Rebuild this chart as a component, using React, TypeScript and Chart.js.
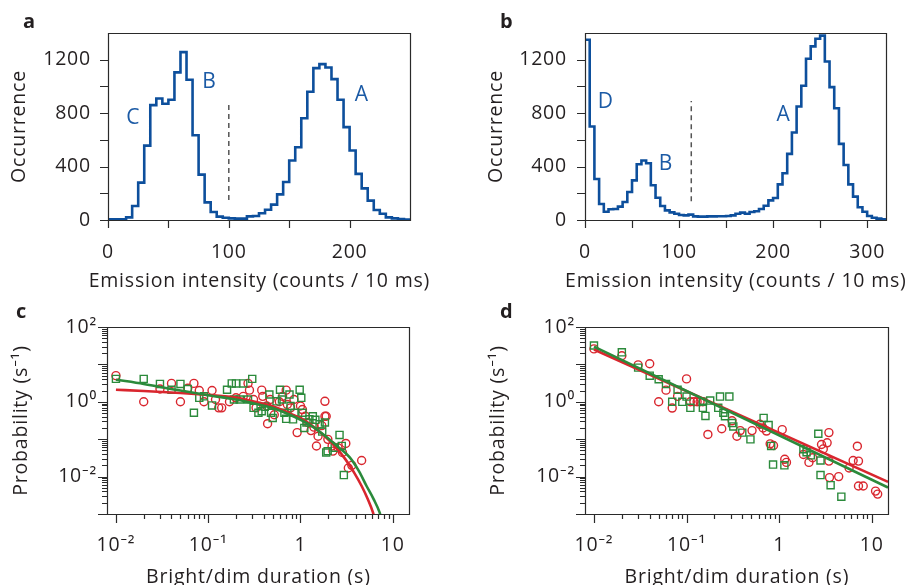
import React, { useEffect, useRef } from 'react';
import { Chart, registerables } from 'chart.js';

Chart.register(...registerables);

const FONT = '"Open Sans", "Noto Sans", "DejaVu Sans", sans-serif';
const TEXT = '#231f20';
const AXIS = '#2a2a2a';
const BLUE = '#0d4f9c';
const NOTE_BLUE = '#1b5aa5';
const RED = '#d9262e';
const GREEN = '#2b8a3b';
const DASH = '#555555';

// ---------------- Panel a : histogram ----------------
const binWidth = 5;
const histA = [
  5, 5, 5, 20, 105, 280, 557, 860, 910, 870,
  900, 1105, 1257, 1050, 635, 340, 132, 60, 25, 17,
  12, 10, 10, 27, 30, 50, 77, 115, 192, 285,
  445, 545, 762, 960, 1137, 1167, 1142, 1055, 900, 695,
  520, 345, 237, 145, 75, 47, 20, 12, 8, 3,
];
const histAXRange = [0, 250];
const histAXTicks = [0, 100, 200];
const histAXMarks = [0, 50, 100, 150, 200];
const histYRange = [0, 1400];
const histYTicks = [0, 400, 800, 1200];
const histYMarks = [0, 200, 400, 600, 800, 1000, 1200];
const dividerAX = 100;
const dividerAY = [150, 890];
const notesA = ['C', 'B', 'A'];
const notesAX = [21, 84, 210];
const notesAY = [763, 1030, 937];

// ---------------- Panel b : histogram ----------------
const histB = [
  1350, 700, 307, 120, 62, 80, 82, 100, 135, 210,
  297, 417, 445, 425, 260, 167, 105, 72, 57, 47,
  37, 35, 40, 27, 25, 25, 27, 27, 28, 28,
  30, 35, 47, 55, 47, 60, 65, 82, 107, 147,
  165, 267, 350, 495, 655, 850, 1005, 1207, 1300, 1357,
  1380, 1187, 995, 837, 570, 412, 267, 175, 95, 62,
  30, 17, 10, 5,
];
const histBXRange = [0, 320];
const histBXTicks = [0, 100, 200, 300];
const histBXMarks = [0, 50, 100, 150, 200, 250, 300];
const dividerBX = 113;
const dividerBY = [140, 890];
const notesB = ['D', 'B', 'A'];
const notesBX = [22, 86, 211];
const notesBY = [887, 420, 787];

// ---------------- Panels c, d : log-log ----------------
const logXRange = [0.008, 15];
const logYRange = [0.001, 100];
const logXTicks = [0.01, 0.1, 1, 10];
const logXLabels = ['10⁻²', '10⁻¹', '1', '10'];
const logYTicks = [0.01, 1, 100];
const logYLabels = ['10⁻²', '10⁰', '10²'];

const cRedX = [0.01, 0.02, 0.03, 0.04, 0.05, 0.06, 0.07, 0.08, 0.09, 0.11, 0.12, 0.13, 0.14, 0.17, 0.2, 0.24, 0.27, 0.28, 0.31, 0.33, 0.38, 0.39, 0.43, 0.44, 0.47, 0.52, 0.59, 0.64, 0.7, 0.72, 0.78, 0.85, 0.92, 1.0, 1.05, 1.13, 1.2, 1.3, 1.4, 1.49, 1.55, 1.7, 1.84, 1.84, 1.9, 1.98, 2.2, 2.25, 2.55, 2.85, 3.1, 3.3, 3.6, 4.6];
const cRedY = [5.0, 1.0, 2.2, 3.1, 1.0, 2.3, 3.1, 2.0, 1.0, 2.0, 1.15, 0.69, 0.69, 1.0, 1.28, 1.4, 3.1, 2.05, 1.15, 0.69, 2.05, 1.4, 0.77, 0.26, 1.15, 0.45, 1.0, 1.4, 2.05, 0.85, 0.69, 1.15, 0.15, 0.77, 0.62, 0.41, 0.28, 0.17, 0.21, 0.066, 0.12, 0.23, 1.03, 0.41, 0.41, 0.099, 0.066, 0.048, 0.059, 0.044, 0.077, 0.017, 0.02, 0.027];
const cGreenX = [0.01, 0.02, 0.03, 0.04, 0.05, 0.06, 0.07, 0.08, 0.09, 0.11, 0.16, 0.18, 0.2, 0.24, 0.3, 0.19, 0.22, 0.27, 0.31, 0.35, 0.38, 0.41, 0.46, 0.48, 0.5, 0.55, 0.6, 0.63, 0.67, 0.7, 0.76, 0.78, 0.83, 0.86, 0.98, 1.02, 1.05, 1.1, 1.16, 1.25, 1.36, 1.45, 1.61, 1.72, 1.84, 1.9, 1.97, 2.35, 2.65, 2.8, 2.95];
const cGreenY = [4.1, 4.1, 3.0, 2.1, 3.0, 2.2, 0.51, 1.28, 1.4, 0.8, 2.1, 3.1, 3.1, 3.1, 4.1, 1.15, 1.15, 1.15, 0.69, 0.51, 0.56, 0.74, 1.57, 0.51, 0.37, 1.03, 2.1, 1.15, 0.51, 0.35, 1.57, 0.77, 0.34, 0.51, 2.1, 1.28, 0.51, 0.2, 0.28, 0.34, 0.41, 0.33, 0.25, 0.16, 0.28, 0.044, 0.048, 0.059, 0.13, 0.066, 0.011];
const cRedFitX = [0.01, 0.02, 0.05, 0.1, 0.2, 0.35, 0.5, 0.8, 1.2, 1.8, 2.5, 3.1, 3.8, 4.6, 5.4, 6.1, 6.5];
const cRedFitY = [2.1, 1.95, 1.72, 1.52, 1.3, 0.95, 0.76, 0.47, 0.28, 0.125, 0.055, 0.028, 0.013, 0.0056, 0.0024, 0.0011, 0.0006];
const cGreenFitX = [0.01, 0.02, 0.05, 0.1, 0.2, 0.35, 0.5, 0.8, 1.2, 1.8, 2.5, 3.4, 4.3, 5.2, 6.2, 7.2, 7.7];
const cGreenFitY = [3.9, 3.0, 2.0, 1.5, 1.15, 0.85, 0.68, 0.43, 0.26, 0.13, 0.065, 0.033, 0.014, 0.0056, 0.0025, 0.0011, 0.0006];

const dRedX = [0.01, 0.02, 0.03, 0.04, 0.05, 0.06, 0.07, 0.08, 0.1, 0.11, 0.12, 0.13, 0.14, 0.15, 0.17, 0.24, 0.31, 0.35, 0.38, 0.51, 0.62, 0.67, 0.73, 0.8, 0.87, 1.08, 1.15, 1.2, 1.83, 2.1, 2.3, 2.87, 3.0, 3.3, 3.45, 3.45, 3.5, 4.4, 5.7, 6.3, 7.0, 7.2, 7.2, 8.1, 11, 11.6];
const dRedY = [26, 17, 9.7, 10.4, 1.0, 2.05, 0.68, 1.4, 4.1, 1.0, 1.0, 1.0, 1.0, 1.0, 0.134, 0.19, 0.31, 0.12, 0.17, 0.17, 0.25, 0.2, 0.165, 0.075, 0.068, 0.18, 0.029, 0.024, 0.039, 0.024, 0.032, 0.072, 0.055, 0.08, 0.15, 0.026, 0.0094, 0.01, 0.017, 0.027, 0.065, 0.026, 0.0056, 0.0056, 0.0041, 0.0034];
const dGreenX = [0.01, 0.02, 0.03, 0.04, 0.05, 0.06, 0.07, 0.08, 0.09, 0.1, 0.11, 0.15, 0.15, 0.16, 0.18, 0.22, 0.23, 0.25, 0.26, 0.29, 0.31, 0.32, 0.4, 0.49, 0.68, 0.77, 0.82, 0.86, 1.14, 1.83, 1.98, 2.2, 2.65, 2.8, 2.8, 3.6, 4.7];
const dGreenY = [32, 21, 8.2, 5.0, 4.0, 3.0, 1.0, 2.1, 1.0, 1.38, 0.69, 1.0, 0.69, 0.42, 1.08, 0.69, 1.38, 0.51, 0.41, 1.38, 0.27, 0.22, 0.15, 0.099, 0.37, 0.24, 0.066, 0.021, 0.02, 0.054, 0.045, 0.037, 0.14, 0.027, 0.011, 0.0059, 0.0029];
const dRedFitX = [0.01, 15];
const dRedFitY = [25, 0.0072];
const dGreenFitX = [0.01, 15];
const dGreenFitY = [30, 0.0051];

// ---------------- helpers ----------------
const zip = (xs: number[], ys: number[]) => xs.map((x, i) => ({ x, y: ys[i] }));
const histPoints = (h: number[]) =>
  h.map((y, i) => ({ x: i * binWidth, y })).concat([{ x: h.length * binWidth, y: h[h.length - 1] }]);

function logMarks(lo: number, hi: number, minExp: number, maxExp: number) {
  const out: [number, boolean][] = [];
  for (let e = minExp; e <= maxExp; e++) {
    for (let m = 1; m <= 9; m++) {
      const v = m * Math.pow(10, e);
      if (v >= lo * 0.999 && v <= hi * 1.001) out.push([v, m === 1]);
    }
  }
  return out;
}

const decorPlugin = {
  id: 'decor',
  beforeDraw(chart: any) {
    chart.ctx.letterSpacing = '0.8px';
  },
  afterDatasetsDraw(chart: any, _args: any, opts: any) {
    const { ctx, chartArea: a, scales } = chart;
    const xs = scales.x;
    const ys = scales.y;
    ctx.save();
    if (opts.notes) {
      ctx.fillStyle = NOTE_BLUE;
      ctx.font = `21px ${FONT}`;
      ctx.textAlign = 'center';
      ctx.textBaseline = 'middle';
      opts.notes.text.forEach((t: string, i: number) => {
        ctx.fillText(t, xs.getPixelForValue(opts.notes.x[i]), ys.getPixelForValue(opts.notes.y[i]));
      });
    }
    ctx.strokeStyle = AXIS;
    ctx.lineWidth = 1.2;
    ctx.beginPath();
    ctx.rect(Math.round(a.left) + 0.5, Math.round(a.top) + 0.5, Math.round(a.right - a.left), Math.round(a.bottom - a.top));
    ctx.stroke();
    ctx.beginPath();
    opts.xMarks.forEach(([v, major]: [number, boolean]) => {
      const p = Math.round(xs.getPixelForValue(v)) + 0.5;
      ctx.moveTo(p, a.bottom);
      ctx.lineTo(p, a.bottom + (major ? opts.majorLen : opts.minorLen));
    });
    opts.yMarks.forEach(([v, major]: [number, boolean]) => {
      const p = Math.round(ys.getPixelForValue(v)) + 0.5;
      ctx.moveTo(a.left, p);
      ctx.lineTo(a.left - (major ? opts.majorLen : opts.minorLen), p);
    });
    ctx.stroke();
    // x-axis title (drawn here so it is not squeezed to the axis width)
    ctx.fillStyle = TEXT;
    ctx.font = `19.5px ${FONT}`;
    ctx.textAlign = 'center';
    ctx.textBaseline = 'middle';
    ctx.fillText(opts.xTitle, (a.left + a.right) / 2 + 0.4, opts.xTitleY);
    // panel letter
    ctx.font = `bold 20px ${FONT}`;
    ctx.textAlign = 'left';
    ctx.textBaseline = 'alphabetic';
    ctx.fillText(opts.letter, opts.letterX, opts.letterY);
    ctx.restore();
  },
};

type Spec = {
  w: number; h: number;
  padding: { top: number; right: number; left: number; bottom: number };
  yWidth: number; xHeight: number;
  xType: string; yType: string;
  xRange: number[]; yRange: number[];
  xTicks: number[]; xLabels: string[];
  yTicks: number[]; yLabels: string[];
  xMarks: [number, boolean][]; yMarks: [number, boolean][];
  majorLen: number; minorLen: number;
  xTitle: string; yTitle: string;
  xTitleY: number; yTitlePad: number;
  xTickPad: number; yTickPad: number;
  letter: string; letterX: number; letterY: number;
  notes?: { text: string[]; x: number[]; y: number[] };
  datasets: any[];
};

function buildConfig(s: Spec): any {
  const tickFont = { family: FONT, size: 19.5, lineHeight: 1.2 };
  const titleFont = { family: FONT, size: 19.5, lineHeight: 1 };
  return {
    type: 'line',
    data: { datasets: s.datasets },
    plugins: [decorPlugin],
    options: {
      responsive: false,
      animation: false,
      devicePixelRatio: 1,
      events: [],
      layout: { padding: s.padding },
      plugins: {
        legend: { display: false },
        tooltip: { enabled: false },
        decor: {
          notes: s.notes,
          xMarks: s.xMarks,
          yMarks: s.yMarks,
          majorLen: s.majorLen,
          minorLen: s.minorLen,
          xTitle: s.xTitle,
          xTitleY: s.xTitleY,
          letter: s.letter,
          letterX: s.letterX,
          letterY: s.letterY,
        },
      },
      scales: {
        x: {
          type: s.xType,
          position: 'bottom',
          min: s.xRange[0],
          max: s.xRange[1],
          grid: { display: false, drawTicks: false },
          border: { display: false },
          afterBuildTicks: (sc: any) => { sc.ticks = s.xTicks.map((v) => ({ value: v })); },
          afterFit: (sc: any) => { sc.height = s.xHeight; },
          ticks: {
            autoSkip: false,
            maxRotation: 0,
            minRotation: 0,
            padding: s.xTickPad,
            color: TEXT,
            font: tickFont,
            callback: (v: number) => {
              const i = s.xTicks.findIndex((t) => Math.abs(t - v) < t * 1e-6 + 1e-9);
              return i >= 0 ? s.xLabels[i] : '';
            },
          },
          title: { display: false },
        },
        y: {
          type: s.yType,
          position: 'left',
          min: s.yRange[0],
          max: s.yRange[1],
          grid: { display: false, drawTicks: false },
          border: { display: false },
          afterBuildTicks: (sc: any) => { sc.ticks = s.yTicks.map((v) => ({ value: v })); },
          afterFit: (sc: any) => { sc.width = s.yWidth; },
          ticks: {
            autoSkip: false,
            padding: s.yTickPad,
            color: TEXT,
            font: tickFont,
            callback: (v: number) => {
              const i = s.yTicks.findIndex((t) => Math.abs(t - v) < t * 1e-6 + 1e-9);
              return i >= 0 ? s.yLabels[i] : '';
            },
          },
          title: {
            display: true,
            text: s.yTitle,
            color: TEXT,
            font: titleFont,
            padding: { top: s.yTitlePad, bottom: 0 },
          },
        },
      },
    },
  };
}

const histLine = (h: number[]) => ({
  data: histPoints(h),
  borderColor: BLUE,
  borderWidth: 2.6,
  stepped: 'before',
  pointRadius: 0,
  fill: false,
  borderJoinStyle: 'miter',
});
const divider = (x: number, ys: number[]) => ({
  data: [{ x, y: ys[0] }, { x, y: ys[1] }],
  borderColor: DASH,
  borderWidth: 1.5,
  borderDash: [5, 4],
  pointRadius: 0,
  fill: false,
});
const fitLine = (xs: number[], ys: number[], color: string) => ({
  data: zip(xs, ys),
  borderColor: color,
  borderWidth: 2.6,
  pointRadius: 0,
  fill: false,
  cubicInterpolationMode: 'monotone',
});
const marks = (xs: number[], ys: number[], color: string, style: string, r: number) => ({
  data: zip(xs, ys),
  showLine: false,
  pointStyle: style,
  pointRadius: r,
  pointBorderColor: color,
  pointBackgroundColor: 'rgba(0,0,0,0)',
  pointBorderWidth: 1.4,
  borderColor: color,
  backgroundColor: 'rgba(0,0,0,0)',
});

const linMarks = (vs: number[]): [number, boolean][] => vs.map((v) => [v, true]);

const specA: Spec = {
  w: 453, h: 300,
  padding: { top: 33, right: 43, left: 0, bottom: 0 },
  yWidth: 108, xHeight: 80,
  xType: 'linear', yType: 'linear',
  xRange: histAXRange, yRange: histYRange,
  xTicks: histAXTicks, xLabels: histAXTicks.map(String),
  yTicks: histYTicks, yLabels: histYTicks.map(String),
  xMarks: linMarks(histAXMarks), yMarks: linMarks(histYMarks),
  majorLen: 8, minorLen: 8,
  xTitle: 'Emission intensity (counts / 10 ms)', yTitle: 'Occurrence',
  xTitleY: 281, yTitlePad: 10,
  xTickPad: 21, yTickPad: 17,
  letter: 'a', letterX: 23, letterY: 28,
  notes: { text: notesA, x: notesAX, y: notesAY },
  datasets: [histLine(histA), divider(dividerAX, dividerAY)],
};

const specB: Spec = {
  ...specA,
  padding: { top: 33, right: 18, left: 0, bottom: 0 },
  yWidth: 132,
  xRange: histBXRange,
  xTicks: histBXTicks, xLabels: histBXTicks.map(String),
  xMarks: linMarks(histBXMarks),
  yTitlePad: 34, yTickPad: 18,
  letter: 'b', letterX: 47, letterY: 28,
  notes: { text: notesB, x: notesBX, y: notesBY },
  datasets: [histLine(histB), divider(dividerBX, dividerBY)],
};

const specC: Spec = {
  w: 453, h: 300,
  padding: { top: 27, right: 44, left: 0, bottom: 0 },
  yWidth: 107, xHeight: 86,
  xType: 'logarithmic', yType: 'logarithmic',
  xRange: logXRange, yRange: logYRange,
  xTicks: logXTicks, xLabels: logXLabels,
  yTicks: logYTicks, yLabels: logYLabels,
  xMarks: logMarks(0.01, 10, -2, 1), yMarks: logMarks(0.001, 100, -3, 2),
  majorLen: 9, minorLen: 5,
  xTitle: 'Bright/dim duration (s)', yTitle: 'Probability (s⁻¹)',
  xTitleY: 277, yTitlePad: 12,
  xTickPad: 20, yTickPad: 10,
  letter: 'c', letterX: 16, letterY: 18,
  datasets: [
    fitLine(cGreenFitX, cGreenFitY, GREEN),
    fitLine(cRedFitX, cRedFitY, RED),
    marks(cGreenX, cGreenY, GREEN, 'rect', 5),
    marks(cRedX, cRedY, RED, 'circle', 4),
  ],
};

const specD: Spec = {
  ...specC,
  padding: { top: 27, right: 18, left: 0, bottom: 0 },
  yWidth: 132,
  yTitlePad: 36,
  letter: 'd', letterX: 47, letterY: 18,
  datasets: [
    fitLine(dGreenFitX, dGreenFitY, GREEN),
    fitLine(dRedFitX, dRedFitY, RED),
    marks(dGreenX, dGreenY, GREEN, 'rect', 5),
    marks(dRedX, dRedY, RED, 'circle', 4),
  ],
};

function Panel({ spec, left, top }: { spec: Spec; left: number; top: number }) {
  const ref = useRef<HTMLCanvasElement | null>(null);
  useEffect(() => {
    if (!ref.current) return;
    const chart = new Chart(ref.current, buildConfig(spec));
    return () => chart.destroy();
  }, [spec]);
  return (
    <canvas
      ref={ref}
      width={spec.w}
      height={spec.h}
      style={{ position: 'absolute', left, top, width: spec.w, height: spec.h }}
    />
  );
}

export default function App() {
  return (
    <div
      style={{
        position: 'fixed',
        left: 0,
        top: 0,
        width: 906,
        height: 585,
        overflow: 'hidden',
        background: '#ffffff',
      }}
    >
      <Panel spec={specA} left={0} top={0} />
      <Panel spec={specB} left={453} top={0} />
      <Panel spec={specC} left={0} top={300} />
      <Panel spec={specD} left={453} top={300} />
    </div>
  );
}
